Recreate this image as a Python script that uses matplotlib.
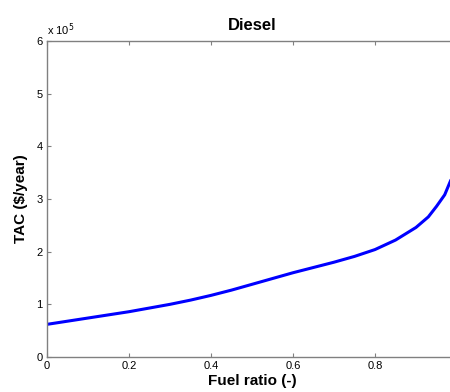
import numpy as np
import matplotlib.pyplot as plt
from matplotlib.ticker import FuncFormatter

plt.rcParams['font.family'] = ['Liberation Sans', 'DejaVu Sans']

# values
fuel_ratio = [0.0, 0.05, 0.1, 0.15, 0.2, 0.25, 0.3, 0.35, 0.4, 0.45, 0.5, 0.55,
              0.6, 0.65, 0.7, 0.75, 0.8, 0.85, 0.9, 0.93, 0.95, 0.97, 0.985]
tac = [0.62e5, 0.68e5, 0.74e5, 0.80e5, 0.86e5, 0.93e5, 1.00e5, 1.08e5, 1.17e5,
       1.27e5, 1.38e5, 1.49e5, 1.60e5, 1.70e5, 1.80e5, 1.91e5, 2.04e5, 2.22e5,
       2.46e5, 2.66e5, 2.86e5, 3.08e5, 3.36e5]
x_ticks = [0, 0.2, 0.4, 0.6, 0.8]

fig = plt.figure(figsize=(4.5, 3.92), dpi=100)
ax = fig.add_axes([47 / 450, 35 / 392, 410 / 450, 316 / 392])

ax.plot(fuel_ratio, tac, color='#0000ff', linewidth=2.2, solid_capstyle='round')

ax.set_xlim(0, 1)
ax.set_ylim(0, 6e5)
ax.set_xticks(x_ticks)
ax.set_yticks(np.arange(0, 7) * 1e5)
ax.xaxis.set_major_formatter(FuncFormatter(lambda v, p: '%g' % v))
ax.yaxis.set_major_formatter(FuncFormatter(lambda v, p: '%g' % (v / 1e5)))
ax.tick_params(direction='in', top=True, right=True, length=3, width=0.8,
               color='#808080', labelsize=8, pad=3)
for s in ax.spines.values():
    s.set_color('#808080')
    s.set_linewidth(1.0)

ax.text(0.0, 1.01, r'x 10$^5$', transform=ax.transAxes, fontsize=8,
        ha='left', va='bottom')
ax.set_title('Diesel', fontsize=12, fontweight='bold', pad=8)
ax.set_xlabel('Fuel ratio (-)', fontsize=11, fontweight='bold', labelpad=2)
ax.set_ylabel('TAC ($/year)', fontsize=11, fontweight='bold', labelpad=6)

fig.savefig('out.png', dpi=100)
